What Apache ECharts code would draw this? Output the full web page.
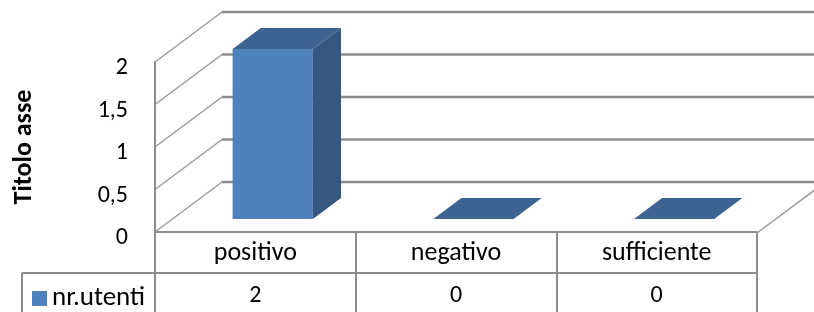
<!DOCTYPE html>
<html>
<head>
<meta charset="utf-8">
<script src="https://cdn.jsdelivr.net/npm/echarts@6/dist/echarts.min.js"></script>
<style>
  html, body { margin: 0; padding: 0; background: #fff; }
  #main { width: 814px; height: 312px; }
</style>
</head>
<body>
<div id="main"></div>
<script>
var categories = ['positivo', 'negativo', 'sufficiente'];
var utenti = [2, 0, 0];
var yTicks = [0, 0.5, 1, 1.5, 2];
var seriesName = 'nr.utenti';

// 3d depth offset in pixels
var DX = 67, DY = -50;
var FONT = 'Carlito, Lato, "Liberation Sans", sans-serif';
var GRID = '#8c8c8c';

var myChart = echarts.init(document.getElementById('main'));

function wallItem(params, api) {
    var v = api.value(0);
    var y = api.coord([0, v])[1];
    var cs = params.coordSys;
    var x0 = cs.x;
    var kids = [
        {type: 'line', shape: {x1: x0, y1: y, x2: x0 + DX, y2: y + DY},
         style: {stroke: '#9a9a9a', lineWidth: 1.5}},
        {type: 'line', shape: {x1: x0 + DX, y1: y + DY, x2: cs.x + cs.width + 120, y2: y + DY},
         style: {stroke: GRID, lineWidth: 2.5}}
    ];
    if (v === 0) {
        kids.push({type: 'line',
            shape: {x1: cs.x + cs.width, y1: y + 1, x2: cs.x + cs.width + DX, y2: y + 1 + DY},
            style: {stroke: '#9a9a9a', lineWidth: 1.5}});
    }
    return {type: 'group', children: kids};
}

function barItem(params, api) {
    var idx = api.value(0), val = api.value(1);
    var top = api.coord([idx, val]);
    var bot = api.coord([idx, 0]);
    var bw = api.size([1, 0])[0] * 0.4;
    var fx = DX * 0.26, fy = DY * 0.26;
    var ddx = DX * 0.42, ddy = DY * 0.42;
    var x0 = top[0] - bw / 2 + fx, x1 = x0 + bw;
    var yT = top[1] + fy, yB = bot[1] + fy;
    var kids = [];
    if (yB - yT > 0.5) {
        kids.push({type: 'rect', shape: {x: x0, y: yT, width: bw, height: yB - yT},
                   style: {fill: '#4F81BD'}});
        kids.push({type: 'polygon',
            shape: {points: [[x1, yT], [x1 + ddx, yT + ddy], [x1 + ddx, yB + ddy], [x1, yB]]},
            style: {fill: '#36577F'}});
    }
    kids.push({type: 'polygon',
        shape: {points: [[x0, yT], [x1, yT], [x1 + ddx, yT + ddy], [x0 + ddx, yT + ddy]]},
        style: {fill: '#3D6390'}});
    return {type: 'group', children: kids};
}

var option = {
    animation: false,
    textStyle: {fontFamily: FONT},
    legend: {
        data: [{name: seriesName, icon: 'rect'}],
        left: 27, top: 280,
        itemWidth: 15, itemHeight: 15, itemGap: 7,
        textStyle: {fontSize: 27, color: '#000', fontFamily: FONT}
    },
    grid: {left: 155, right: 57, top: 62, bottom: 80},
    xAxis: [{
        type: 'category',
        data: categories,
        axisLine: {show: true, lineStyle: {color: GRID, width: 2}},
        axisTick: {show: true, inside: false, length: 82, lineStyle: {color: GRID, width: 2}},
        axisLabel: {fontSize: 26, color: '#000', margin: 21, verticalAlign: 'middle'},
        splitLine: {show: false}
    }, {
        type: 'category',
        data: categories,
        position: 'bottom',
        offset: 41,
        axisLine: {show: false},
        axisTick: {show: false},
        axisLabel: {
            fontSize: 24, color: '#000', margin: 23, verticalAlign: 'middle',
            formatter: function (v, i) { return String(utenti[i]); }
        }
    }],
    yAxis: {
        type: 'value',
        min: 0, max: 2, interval: 0.5,
        name: 'Titolo asse',
        nameLocation: 'middle',
        nameGap: 118,
        nameTextStyle: {fontSize: 26, fontWeight: 'bold', color: '#000', fontFamily: FONT},
        axisLine: {show: true, lineStyle: {color: GRID, width: 2}},
        axisTick: {show: false},
        splitLine: {show: false},
        axisLabel: {
            color: '#000', margin: 27,
            formatter: function (v) { return '{v|' + String(v).replace('.', ',') + '}'; },
            rich: {v: {fontSize: 24, color: '#000', fontFamily: FONT, padding: [12, 0, 0, 0]}}
        }
    },
    graphic: [
        {type: 'line', shape: {x1: 22, y1: 273, x2: 757, y2: 273},
         style: {stroke: GRID, lineWidth: 2}},
        {type: 'line', shape: {x1: 22, y1: 273, x2: 22, y2: 312},
         style: {stroke: GRID, lineWidth: 2}}
    ],
    series: [{
        type: 'custom',
        name: 'walls',
        renderItem: wallItem,
        data: yTicks.map(function (t) { return [t]; }),
        encode: {y: 0},
        silent: true,
        z: 1
    }, {
        type: 'custom',
        name: seriesName,
        renderItem: barItem,
        itemStyle: {color: '#4F81BD'},
        data: utenti.map(function (v, i) { return [i, v]; }),
        encode: {x: 0, y: 1},
        z: 3
    }]
};
myChart.setOption(option);
</script>
</body>
</html>
